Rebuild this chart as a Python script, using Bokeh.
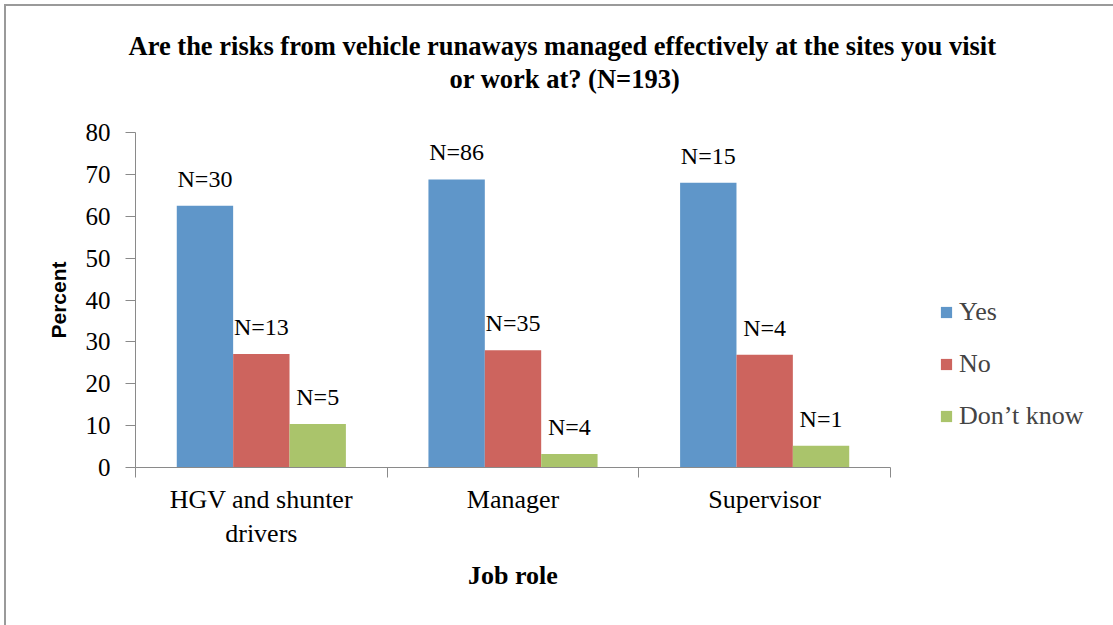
from bokeh.plotting import figure
from bokeh.models import (ColumnDataSource, Range1d, FixedTicker, Legend, LegendItem, Title)
from bokeh.transform import dodge
from bokeh.core.properties import value
from bokeh.embed import file_html
from bokeh.resources import INLINE

# ---- data ----
categories = ["HGV and shunter drivers", "Manager", "Supervisor"]
category_labels = ["HGV and shunter\ndrivers", "Manager", "Supervisor"]
yes_pct = [62.5, 68.8, 68.0]
no_pct = [27.1, 28.0, 26.9]
dontknow_pct = [10.4, 3.2, 5.2]
yes_n = ["N=30", "N=86", "N=15"]
no_n = ["N=13", "N=35", "N=4"]
dontknow_n = ["N=5", "N=4", "N=1"]
series_names = ["Yes", "No", "Don\u2019t know"]
y_ticks = [0, 10, 20, 30, 40, 50, 60, 70, 80]
title_lines = ["Are the risks from vehicle runaways managed effectively at the sites you visit",
               "or work at? (N=193)"]

colors = ["#5F96C9", "#CD645E", "#AAC46B"]
serif = "Liberation Serif"
axis_gray = "#8A8A8A"

ncat = len(categories)
centers = [i + 0.5 for i in range(ncat)]
bounds = [float(i) for i in range(ncat + 1)]

source = ColumnDataSource(dict(cat=categories, xc=centers, yes=yes_pct, no=no_pct, dk=dontknow_pct,
                               yes_n=yes_n, no_n=no_n, dk_n=dontknow_n))

p = figure(frame_width=755, frame_height=335, x_range=Range1d(0, ncat),
           y_range=Range1d(0, 80), output_backend="svg",
           toolbar_location=None, min_border_left=129, min_border_top=126,
           min_border_right=223, min_border_bottom=158)
p.styles = {"margin-left": "4px", "margin-top": "4px",
            "border-left": "2px solid #9a9a9a", "border-top": "2px solid #9a9a9a"}
p.outline_line_color = None
p.xgrid.grid_line_color = None
p.ygrid.grid_line_color = None

bw = 0.224
r_yes = p.vbar(x=dodge("xc", -bw), top="yes", width=bw, source=source,
               fill_color=colors[0], line_color=None)
r_no = p.vbar(x=dodge("xc", 0), top="no", width=bw, source=source,
              fill_color=colors[1], line_color=None)
r_dk = p.vbar(x=dodge("xc", bw), top="dk", width=bw, source=source,
              fill_color=colors[2], line_color=None)

for off, col, txt in [(-bw, "yes", "yes_n"), (0, "no", "no_n"), (bw, "dk", "dk_n")]:
    p.text(x=dodge("xc", off), y=col, text=txt, source=source,
           text_align="center", text_baseline="alphabetic", y_offset=-27,
           text_font=value(serif), text_font_size="24px", text_color="#000000")

# y axis
ya = p.yaxis[0]
ya.ticker = FixedTicker(ticks=y_ticks)
ya.axis_label = "Percent"
ya.axis_label_text_font = "Liberation Sans"
ya.axis_label_text_font_style = "bold"
ya.axis_label_text_font_size = "21px"
ya.axis_label_text_color = "#000000"
ya.axis_label_standoff = 13
ya.major_label_text_font = serif
ya.major_label_text_font_size = "25px"
ya.major_label_text_color = "#000000"
ya.major_label_standoff = 15
ya.major_tick_out = 10
ya.major_tick_in = 0
ya.minor_tick_line_color = None
ya.axis_line_color = axis_gray
ya.major_tick_line_color = axis_gray

# x axis: labels at category centres, boundary ticks between categories
xa = p.xaxis[0]
xa.ticker = FixedTicker(ticks=centers, minor_ticks=bounds)
xa.major_label_overrides = {c: lab for c, lab in zip(centers, category_labels)}
xa.major_tick_line_color = None
xa.major_tick_out = 0
xa.major_tick_in = 0
xa.minor_tick_out = 10
xa.minor_tick_in = 0
xa.minor_tick_line_color = axis_gray
xa.axis_line_color = axis_gray
xa.major_label_text_font = serif
xa.major_label_text_font_size = "26px"
xa.major_label_text_color = "#000000"
xa.major_label_standoff = 7
xa.axis_label = "Job role"
xa.axis_label_text_font = serif
xa.axis_label_text_font_style = "bold"
xa.axis_label_text_font_size = "26px"
xa.axis_label_text_color = "#000000"
xa.axis_label_standoff = 10

# two-line chart title; a tiny blank title keeps the gap above the frame
spacer = Title(text=" ", text_font_size="1px", standoff=36)
t2 = Title(text=title_lines[1], align="left", offset=314, standoff=0,
           text_font=serif, text_font_size="26.5px", text_font_style="bold", text_color="#000000")
t1 = Title(text=title_lines[0], align="left", offset=-7, standoff=2,
           text_font=serif, text_font_size="26.5px", text_font_style="bold", text_color="#000000")
p.add_layout(spacer, "above")
p.add_layout(t2, "above")
p.add_layout(t1, "above")

legend = Legend(items=[LegendItem(label=series_names[0], renderers=[r_yes]),
                       LegendItem(label=series_names[1], renderers=[r_no]),
                       LegendItem(label=series_names[2], renderers=[r_dk])],
                location=(49, 36), orientation="vertical",
                glyph_width=14, glyph_height=14, label_height=30, spacing=22,
                padding=0, margin=0, border_line_color=None, background_fill_alpha=0,
                label_text_font=serif, label_text_font_size="26px", label_standoff=6)
p.add_layout(legend, "right")

open("out.html", "w").write(file_html(p, INLINE))
